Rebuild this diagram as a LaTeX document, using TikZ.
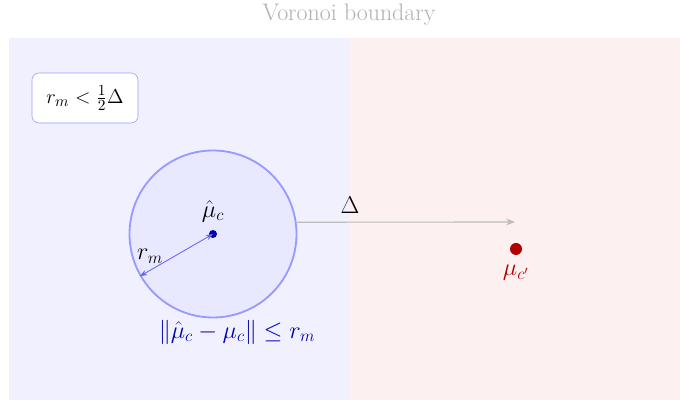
\documentclass[tikz,border=0pt]{standalone}
\usepackage{amsmath,amssymb}
\usepackage{tikz}
\usetikzlibrary{arrows.meta,positioning,calc}
\definecolor{cellA}{HTML}{F0F0FF}
\definecolor{cellB}{HTML}{FDF0F0}
\definecolor{ballfill}{HTML}{E8E8FF}
\definecolor{balledge}{HTML}{9999FF}
\definecolor{radius}{HTML}{6666EE}
\definecolor{centroid}{HTML}{0000B0}
\definecolor{other}{HTML}{B00000}
\definecolor{neutral}{HTML}{BBBBBB}
\definecolor{boundary}{HTML}{B0B0B0}
\tikzset{
  condbox/.style={draw=balledge, fill=white, rounded corners=5pt,
    minimum width=2.65cm, minimum height=1.25cm, font=\fontsize{15.5}{18}\selectfont},
  ball/.style={circle, draw=balledge, line width=1.3pt, fill=ballfill,
    minimum size=4.175cm, inner sep=0pt},
  cdot/.style={circle, fill=centroid, inner sep=0pt, minimum size=0.2cm},
  odot/.style={circle, fill=other, inner sep=0pt, minimum size=0.3cm},
  lbl/.style={font=\fontsize{16.5}{19}\selectfont},
  radarr/.style={{Stealth[length=1.8mm]}-{Stealth[length=1.8mm]}, draw=radius, semithick},
  gaparr/.style={-{Stealth[length=2.2mm]}, draw=neutral, thick}
}

\begin{document}
\begin{tikzpicture}
    \useasboundingbox (0,0) rectangle (17,10);
    % the two Voronoi cells
    \fill[cellA] (0.225,0) rectangle (8.725,9.05);
    \fill[cellB] (8.725,0) rectangle (17,9.05);
    \node[font=\fontsize{17}{20}\selectfont, text=boundary] (title) at (8.725,9.63) {Voronoi boundary};

    \node[condbox] (cond) at (2.125,7.55) {$r_m < \tfrac{1}{2}\Delta$};

    % ball around the estimated centre
    \node[ball] (ball) at (5.325,4.15) {};
    \node[cdot] (muhat) at (ball.center) {};
    \node[lbl] (muhatlbl) at (5.325,4.72) {$\hat{\mu}_c$};
    \draw[radarr] (ball.210) -- (muhat.center);
    \node[lbl] (rlbl) at (3.75,3.6) {$r_m$};
    \node[lbl, text=centroid] (bound) at (5.925,1.7) {$\|\hat{\mu}_c - \mu_c\| \leq r_m$};

    % neighbouring centre
    \coordinate (gapend) at (12.875,4.45);
    \draw[gaparr] (ball.8) -- (gapend);
    \node[lbl] (gaplbl) at (8.75,4.86) {$\Delta$};
    \node[odot] (mu2) at (12.9,3.775) {};
    \node[lbl, text=other, below=0.12cm of mu2] (mu2lbl) {$\mu_{c'}$};
  \end{tikzpicture}
\end{document}
